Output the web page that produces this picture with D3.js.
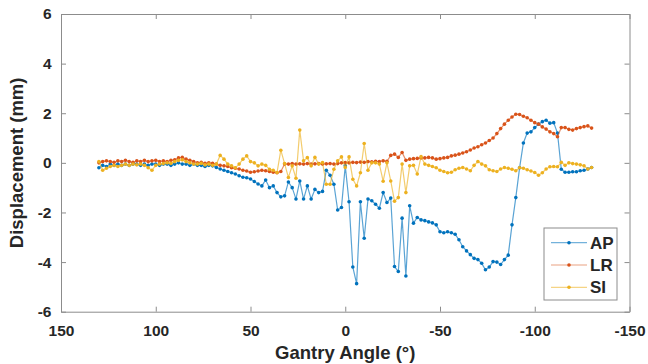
<!DOCTYPE html>
<html>
<head>
<meta charset="utf-8">
<script src="https://cdn.jsdelivr.net/npm/d3@7/dist/d3.min.js"></script>
<style>
  body { margin: 0; background: #fff; }
  svg { display: block; }
  text { font-family: "Liberation Sans", Arial, sans-serif; font-weight: bold; fill: #262626; }
</style>
</head>
<body>
<svg id="chart" width="648" height="364"></svg>
<script>
// gantry angle samples (deg), 130 -> -130
const angles = [
  130, 128, 126, 124, 122, 120, 118, 116, 114, 112,
  110, 108, 106, 104, 102, 100, 98, 96, 94, 92,
  90, 88, 86, 84, 82, 80, 78, 76, 74, 72,
  70, 68, 66, 64, 62, 60, 58, 56, 54, 52,
  50, 48, 46, 44, 42, 40, 38, 36, 34, 32,
  30, 28, 26, 24, 22, 20, 18, 16, 14, 12,
  10, 8, 6, 4, 2, 0, -2, -4, -6, -8,
  -10, -12, -14, -16, -18, -20, -22, -24, -26, -28,
  -30, -32, -34, -36, -38, -40, -42, -44, -46, -48,
  -50, -52, -54, -56, -58, -60, -62, -64, -66, -68,
  -70, -72, -74, -76, -78, -80, -82, -84, -86, -88,
  -90, -92, -94, -96, -98, -100, -102, -104, -106, -108,
  -110, -112, -114, -116, -118, -120, -122, -124, -126, -128,
  -130
];

const apValues = [
  -0.2, -0.1, -0.15, -0.05, -0.1, -0.05, -0.1, -0.05, -0.1, -0.05,
  -0.05, -0.1, -0.05, -0.1, -0.05, -0.05, -0.1, -0.05, -0.05, -0.1,
  -0.05, 0.0, -0.05, -0.05, -0.1, -0.05, -0.1, -0.1, -0.15, -0.1,
  -0.12, -0.19, -0.25, -0.3, -0.35, -0.4, -0.45, -0.52, -0.58, -0.6,
  -0.65, -0.75, -0.85, -0.93, -0.69, -1.0, -0.93, -1.2, -1.37, -1.33,
  -0.77, -1.0, -1.46, -0.73, -1.46, -0.93, -1.46, -1.07, -1.2, -1.15,
  -0.3, -0.5, -0.86, -1.9, -1.8, -0.12, -1.57, -4.2, -4.87, -1.57,
  -3.04, -1.46, -1.53, -1.67, -1.83, -1.2, -1.6, -1.42, -4.18, -4.38,
  -2.23, -4.56, -1.73, -2.43, -2.2, -2.3, -2.33, -2.38, -2.42, -2.5,
  -2.78, -2.82, -2.78, -2.82, -2.88, -3.1, -3.38, -3.55, -3.7, -3.85,
  -3.9, -4.05, -4.31, -4.2, -3.98, -4.0, -4.1, -3.9, -3.72, -2.5,
  -1.4, -0.2, 0.8, 1.2, 1.25, 1.42, 1.56, 1.66, 1.72, 1.6,
  1.62, 1.2, -0.26, -0.38, -0.38, -0.36, -0.36, -0.32, -0.3, -0.25,
  -0.19
];

const lrValues = [
  0.0, 0.05, 0.08, 0.05, 0.02, 0.08, 0.05, 0.1, 0.05, 0.02,
  0.08, 0.05, 0.1, 0.05, 0.08, 0.1, 0.05, 0.08, 0.05, 0.1,
  0.12, 0.2, 0.22, 0.15, 0.1, 0.05, 0.0, 0.02, -0.02, 0.0,
  -0.02, -0.05, -0.1, -0.12, -0.15, -0.2, -0.22, -0.25, -0.3, -0.33,
  -0.38, -0.36, -0.33, -0.3, -0.32, -0.35, -0.38, -0.4, -0.35, -0.05,
  -0.05, -0.03, -0.05, -0.04, -0.05, -0.03, -0.05, -0.04, -0.03, -0.05,
  -0.04, -0.03, -0.05, -0.03, 0.0, 0.01, 0.0, 0.02, 0.01, 0.03,
  0.02, 0.05, 0.04, 0.06, 0.05, 0.08, 0.06, 0.3, 0.35, 0.22,
  0.42, 0.1, 0.15, 0.17, 0.18, 0.2, 0.2, 0.22, 0.2, 0.15,
  0.17, 0.2, 0.22, 0.28, 0.31, 0.35, 0.4, 0.45, 0.52, 0.6,
  0.65, 0.73, 0.8, 0.9, 1.0, 1.18, 1.38, 1.56, 1.72, 1.85,
  1.96, 1.95, 1.88, 1.82, 1.72, 1.62, 1.56, 1.45, 1.36, 1.25,
  1.18, 1.05, 1.42, 1.42, 1.35, 1.32, 1.38, 1.42, 1.46, 1.49,
  1.4
];

const siValues = [
  0.05, -0.3, -0.22, -0.15, -0.1, -0.15, -0.1, -0.05, -0.1, -0.05,
  -0.08, -0.05, -0.1, -0.2, -0.3, -0.1, -0.05, -0.03, 0.0, -0.02,
  0.05, 0.1, 0.12, 0.05, 0.0, -0.05, -0.05, -0.02, -0.08, -0.05,
  -0.1, -0.05, 0.3, 0.15, -0.05, -0.12, -0.2, -0.05, 0.15, 0.28,
  0.05, 0.0, -0.12, -0.05, -0.1, -0.26, -0.3, -0.39, 0.51, -0.03,
  -0.59, -0.12, -0.62, 1.32, 0.08, 0.21, -0.12, 0.22, -0.05, 0.01,
  -0.86, -0.86, -0.26, 0.08, 0.24, -0.19, 0.24, -0.66, -0.93, -0.4,
  0.78, -0.3, 0.0, 0.0, -0.05, -0.74, 0.0, -0.73, -1.55, -1.4,
  -0.05, -1.2, -0.12, -0.1, -0.45, 0.25, -0.05, -0.1, -0.15, -0.2,
  -0.3, -0.35, -0.4, -0.38, -0.28, -0.22, -0.19, -0.25, -0.32, -0.1,
  0.05, -0.05, -0.12, -0.28, -0.32, -0.35, -0.25, -0.19, -0.22, -0.26,
  -0.32, -0.2, -0.22, -0.28, -0.33, -0.39, -0.5, -0.4, -0.25, -0.16,
  -0.15, -0.16, 0.02, -0.1, 0.0, -0.03, -0.05, -0.08, -0.12, -0.25,
  -0.19
];

const seriesNames = ["AP", "LR", "SI"];
const seriesColors = ["#0072BD", "#D95319", "#EDB120"];
const xTicks = [150, 100, 50, 0, -50, -100, -150];
const yTicks = [-6, -4, -2, 0, 2, 4, 6];

const plotLeft = 61, plotRight = 629.5, plotTop = 14, plotBottom = 311.7;
const svg = d3.select("#chart");
const x = d3.scaleLinear().domain([150, -150]).range([plotLeft, plotRight]);
const y = d3.scaleLinear().domain([-6, 6]).range([plotBottom, plotTop]);

const axisColor = "#8c8c8c";
function styleAxis(g) {
  g.select(".domain").attr("stroke", axisColor);
  g.selectAll(".tick line").attr("stroke", axisColor);
  g.selectAll(".tick text").attr("fill", "#262626").style("font-size", "15.5px").style("font-weight", "bold");
}

svg.append("g").attr("transform", `translate(0,${plotBottom})`)
  .call(d3.axisBottom(x).tickValues(xTicks).tickFormat(d => String(d)).tickSizeInner(-5).tickSizeOuter(0).tickPadding(13.5))
  .call(styleAxis);
svg.append("g").attr("transform", `translate(0,${plotTop})`)
  .call(d3.axisTop(x).tickValues(xTicks).tickFormat("").tickSizeInner(-5).tickSizeOuter(0))
  .call(styleAxis);
svg.append("g").attr("transform", `translate(${plotLeft},0)`)
  .call(d3.axisLeft(y).tickValues(yTicks).tickFormat(d => String(d)).tickSizeInner(-5).tickSizeOuter(0).tickPadding(9.5))
  .call(styleAxis);
svg.append("g").attr("transform", `translate(${plotRight},0)`)
  .call(d3.axisRight(y).tickValues(yTicks).tickFormat("").tickSizeInner(-5).tickSizeOuter(0))
  .call(styleAxis);

// series
const allValues = [apValues, lrValues, siValues];
const line = d3.line().x(d => x(d[0])).y(d => y(d[1]));

allValues.forEach((vals, i) => {
  const pts = angles.map((a, j) => [a, vals[j]]);
  const g = svg.append("g");
  g.append("path")
    .datum(pts)
    .attr("d", line)
    .attr("fill", "none")
    .attr("stroke", seriesColors[i])
    .attr("stroke-opacity", 0.65)
    .attr("stroke-width", 1.2);
  g.selectAll("circle")
    .data(pts)
    .join("circle")
    .attr("cx", d => x(d[0]))
    .attr("cy", d => y(d[1]))
    .attr("r", 1.8)
    .attr("fill", seriesColors[i]);
});

// axis labels
svg.append("text")
  .attr("x", (plotLeft + plotRight) / 2)
  .attr("y", 359)
  .attr("text-anchor", "middle")
  .style("font-size", "18.5px")
  .text("Gantry Angle (°)");

svg.append("text")
  .attr("transform", `translate(23,${(plotTop + plotBottom) / 2}) rotate(-90)`)
  .attr("text-anchor", "middle")
  .style("font-size", "18.5px")
  .text("Displacement (mm)");

// legend
const legend = svg.append("g").attr("transform", "translate(544,228)");
legend.append("rect")
  .attr("width", 73).attr("height", 72)
  .attr("fill", "#fff").attr("stroke", axisColor).attr("stroke-width", 1);
seriesNames.forEach((name, i) => {
  const ly = 14.7 + i * 22.3;
  legend.append("line")
    .attr("x1", 7).attr("x2", 43).attr("y1", ly).attr("y2", ly)
    .attr("stroke", seriesColors[i]).attr("stroke-opacity", 0.55).attr("stroke-width", 1.2);
  legend.append("circle")
    .attr("cx", 25).attr("cy", ly).attr("r", 1.8)
    .attr("fill", seriesColors[i]);
  legend.append("text")
    .attr("x", 46).attr("y", ly + 6)
    .style("font-size", "17px")
    .text(name);
});
</script>
</body>
</html>
